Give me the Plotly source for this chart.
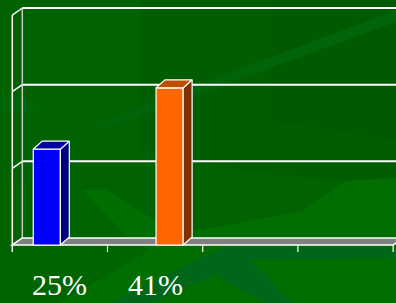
import plotly.graph_objects as go

# ---------------- data ----------------
categories = [0, 1, 2, 3]                 # four category slots on the x axis
series_names = ["Series 1", "Series 2"]
series_values = [
    [0.25, None, None, None],
    [None, 0.41, None, None],
]
value_labels = ["25%", "41%"]
label_categories = [0, 1]
grid_values = [0.0, 0.2, 0.4, 0.6]

# ---------------- style ----------------
front_colors = ["#0000FF", "#FF6600"]
top_colors = ["#0000AC", "#C04E00"]
side_colors = ["#00007C", "#7E3000"]
bar_offsets = [-0.28, 0.01]
bar_width = 0.285
bar_dx, bar_dy = 0.094, 0.021     # depth of the bars
wall_dx, wall_dy = 0.105, 0.0183  # depth of the floor / side wall
W, H = 396, 303

fig = go.Figure()
x_lo, x_hi = -0.5, 3.5
y_top = grid_values[-1]
tick_len = 0.018

# ---------- decorative template background (paper coordinates) ----------
def ppath(pts):
    return "M " + " L ".join(f"{x / W:.4f},{1 - y / H:.4f}" for x, y in pts) + " Z"

bg_shapes = [
    ([(0, 0), (396, 0), (396, 303), (0, 303)], "#006200"),
    ([(140, 0), (396, 0), (396, 178), (345, 181), (250, 172), (140, 150)], "#005E00"),
    ([(270, 0), (396, 0), (396, 140), (270, 120)], "#005A00"),
    ([(0, 180), (83, 190), (130, 240), (150, 250), (60, 303), (0, 303)], "#006500"),
    ([(83, 190), (106, 190), (140, 211), (175, 232), (200, 230), (302, 211),
      (345, 181), (396, 178), (396, 303), (60, 303), (150, 250), (130, 240)], "#006E00"),
    ([(110, 303), (180, 268), (225, 247), (396, 247), (396, 258), (250, 260),
      (292, 303), (265, 303), (215, 275), (180, 290), (150, 303)], "#00661A"),
    ([(85, 128), (396, 10), (396, 22), (100, 130)], "#00650A"),
    ([(0, 92), (30, 100), (40, 112), (0, 112)], "#006506"),
]
shapes = [dict(type="path", path=ppath(p), xref="paper", yref="paper",
               fillcolor=col, line=dict(width=0), layer="below")
          for p, col in bg_shapes]

# ---------- chart walls / floor / grid (data coordinates, behind the bars) ----------
def dpath(xs, ys):
    return "M " + " L ".join(f"{x},{y}" for x, y in zip(xs, ys)) + " Z"

line_w = dict(color="#FFFFFF", width=1.5)
# back wall gridlines
for g in grid_values[1:]:
    shapes.append(dict(type="line", xref="x", yref="y", layer="below",
                       x0=x_lo + wall_dx, x1=x_hi + wall_dx + 0.2,
                       y0=g + wall_dy, y1=g + wall_dy,
                       line=dict(color="#FFFFFF", width=2)))
# back wall left edge
shapes.append(dict(type="line", xref="x", yref="y", layer="below",
                   x0=x_lo + wall_dx, x1=x_lo + wall_dx, y0=wall_dy, y1=y_top + wall_dy,
                   line=dict(color="#C8C8C8", width=1.5)))
# side wall diagonals
for g in grid_values:
    shapes.append(dict(type="line", xref="x", yref="y", layer="below",
                       x0=x_lo, x1=x_lo + wall_dx, y0=g, y1=g + wall_dy, line=line_w))
# front left edge
shapes.append(dict(type="line", xref="x", yref="y", layer="below",
                   x0=x_lo, x1=x_lo, y0=-tick_len, y1=y_top, line=line_w))
# floor
shapes.append(dict(type="path", xref="x", yref="y", layer="below",
                   path=dpath([x_lo, x_hi, x_hi + wall_dx, x_lo + wall_dx],
                              [0, 0, wall_dy, wall_dy]),
                   fillcolor="#808080", line=line_w))
# category ticks
for c in categories:
    shapes.append(dict(type="line", xref="x", yref="y", layer="below",
                       x0=c + 0.5, x1=c + 0.5, y0=-tick_len, y1=0,
                       line=dict(color="#FFFFFF", width=1.2)))

fig.update_layout(shapes=shapes)

# ---------- bars ----------
for s, vals in enumerate(series_values):
    fig.add_trace(go.Bar(
        x=categories, y=vals, name=series_names[s], width=bar_width,
        offset=bar_offsets[s], base=0,
        marker=dict(color=front_colors[s], line=dict(color="#FFFFFF", width=1.2)),
        showlegend=False))
    # 3D top & side faces computed from the values
    for c, v in zip(categories, vals):
        if v is None:
            continue
        x0 = c + bar_offsets[s]
        x1 = x0 + bar_width
        fig.add_trace(go.Scatter(
            x=[x1, x1 + bar_dx, x1 + bar_dx, x1, x1],
            y=[0, bar_dy, v + bar_dy, v, 0],
            fill="toself", fillcolor=side_colors[s], mode="lines",
            line=dict(color="#FFFFFF", width=1.2), hoverinfo="skip", showlegend=False))
        fig.add_trace(go.Scatter(
            x=[x0, x1, x1 + bar_dx, x0 + bar_dx, x0],
            y=[v, v, v + bar_dy, v + bar_dy, v],
            fill="toself", fillcolor=top_colors[s], mode="lines",
            line=dict(color="#FFFFFF", width=1.2), hoverinfo="skip", showlegend=False))

# ---------- value labels under the categories ----------
for txt, c in zip(value_labels, label_categories):
    fig.add_annotation(x=c, y=0, xref="x", yref="paper", text=txt,
                       showarrow=False, yanchor="bottom", xanchor="center",
                       font=dict(family="Liberation Serif", size=30, color="#FFFFFF"))

fig.update_layout(
    width=W, height=H, autosize=False,
    margin=dict(l=0, r=0, t=0, b=0, pad=0),
    paper_bgcolor="#006200", plot_bgcolor="rgba(0,0,0,0)",
    barmode="overlay", showlegend=False,
    xaxis=dict(range=[-0.6292, 3.5305], visible=False, fixedrange=True),
    yaxis=dict(range=[-0.1513, 0.6392], visible=False, fixedrange=True),
)

fig.write_html(
    "out.html",
    config={"displayModeBar": False, "staticPlot": True},
    post_script="document.body.style.margin='0';document.body.style.overflow='hidden';"
                "document.body.style.background='#006200';",
)
